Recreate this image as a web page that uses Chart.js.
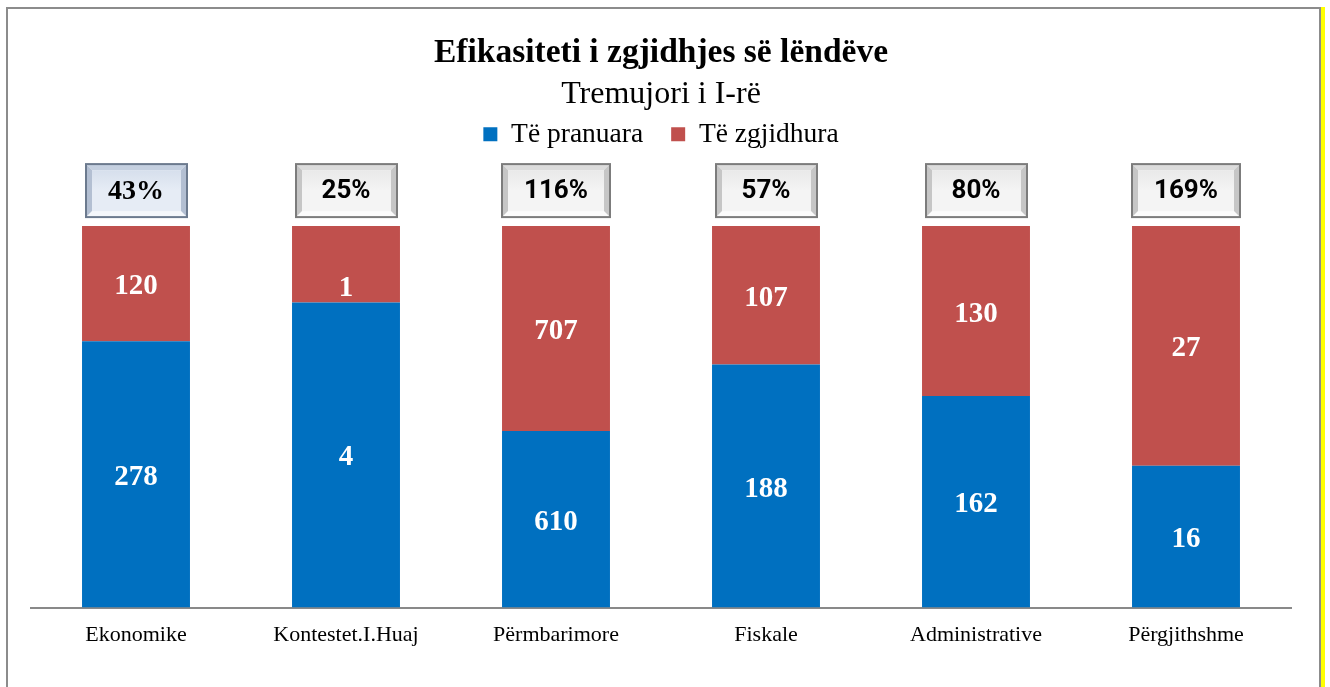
<!DOCTYPE html>
<html>
<head>
<meta charset="utf-8">
<script src="https://cdn.jsdelivr.net/npm/chart.js@4.4.1/dist/chart.umd.min.js"></script>
<style>
  html, body { margin: 0; padding: 0; background: #ffffff; }
  #wrap { position: relative; width: 1330px; height: 687px; overflow: hidden; }
  #c { position: absolute; left: 0; top: 0; }
  #frame { position: absolute; left: 6px; top: 7px; width: 1311px; height: 700px;
           border-left: 2px solid #8c8c8c; border-top: 2px solid #8c8c8c; border-right: 2px solid #8c8c8c;
           pointer-events: none; }
  #stripe { position: absolute; left: 1321px; top: 7px; width: 4px; height: 700px; background: #ffff00; pointer-events: none; }
</style>
</head>
<body>
<div id="wrap">
  <canvas id="c" width="1330" height="687"></canvas>
  <div id="frame"></div>
  <div id="stripe"></div>
</div>
<script>
// ---- data ----
const categories = ['Ekonomike', 'Kontestet.I.Huaj', 'Përmbarimore', 'Fiskale', 'Administrative', 'Përgjithshme'];
const pranuara   = [278, 4, 610, 188, 162, 16];     // Të pranuara
const zgjidhura  = [120, 1, 707, 107, 130, 27];     // Të zgjidhura
const ratioLabels = ['43%', '25%', '116%', '57%', '80%', '169%'];
const seriesNames = ['Të pranuara', 'Të zgjidhura'];

// 100% stacked shares
const totals = categories.map((_, i) => pranuara[i] + zgjidhura[i]);
const sharePranuara  = pranuara.map((v, i) => v / totals[i] * 100);
const shareZgjidhura = zgjidhura.map((v, i) => v / totals[i] * 100);
const rawValues = [pranuara, zgjidhura];

const SERIF = '"Liberation Serif", "DejaVu Serif", serif';

// spacing added under the legend
const legendSpacer = {
  id: 'legendSpacer',
  beforeLayout(chart) {
    const lg = chart.legend;
    if (lg && !lg._patched) {
      const orig = lg.fit;
      lg.fit = function () { orig.call(this); this.height += 68; };
      lg._patched = true;
    }
  }
};

// value labels inside segments
const valueLabels = {
  id: 'valueLabels',
  afterDatasetsDraw(chart, args, opts) {
    const ctx = chart.ctx;
    ctx.save();
    ctx.fillStyle = '#ffffff';
    ctx.font = 'bold 29px ' + SERIF;
    ctx.textAlign = 'center';
    ctx.textBaseline = 'middle';
    chart.data.datasets.forEach((ds, di) => {
      const meta = chart.getDatasetMeta(di);
      meta.data.forEach((el, i) => {
        const yc = (el.y + el.base) / 2 + 3;
        const nudge = (opts.nudge && opts.nudge[di] && opts.nudge[di][i]) || 0;
        ctx.fillText(String(rawValues[di][i]), el.x, yc + nudge);
      });
    });
    ctx.restore();
  }
};

function poly(ctx, pts, fill) {
  ctx.beginPath();
  ctx.moveTo(pts[0][0], pts[0][1]);
  for (let k = 1; k < pts.length; k++) ctx.lineTo(pts[k][0], pts[k][1]);
  ctx.closePath();
  ctx.fillStyle = fill;
  ctx.fill();
}

function bevelBox(ctx, x, y, w, h, blue) {
  const b = 6;
  const c = blue
    ? { face1: '#e6ecf5', face2: '#d6dfec', top: '#c5d0e0', side: '#b3bfd2', bottom: '#f4f7fb', border: '#6c7a8e' }
    : { face1: '#f4f4f4', face2: '#e9e9e9', top: '#dcdcdc', side: '#c6c6c6', bottom: '#fbfbfb', border: '#7c7c7c' };
  poly(ctx, [[x, y], [x + w, y], [x + w - b, y + b], [x + b, y + b]], c.top);
  poly(ctx, [[x, y + h], [x + w, y + h], [x + w - b, y + h - b], [x + b, y + h - b]], c.bottom);
  poly(ctx, [[x, y], [x + b, y + b], [x + b, y + h - b], [x, y + h]], c.side);
  poly(ctx, [[x + w, y], [x + w - b, y + b], [x + w - b, y + h - b], [x + w, y + h]], c.side);
  const g = ctx.createLinearGradient(0, y + b, 0, y + h - b);
  g.addColorStop(0, c.face2);
  g.addColorStop(0.5, c.face1);
  g.addColorStop(1, c.face1);
  ctx.fillStyle = g;
  ctx.fillRect(x + b, y + b, w - 2 * b, h - 2 * b);
  ctx.strokeStyle = c.border;
  ctx.lineWidth = 2;
  ctx.strokeRect(x, y, w, h);
}

// ratio boxes above bars
const ratioBoxes = {
  id: 'ratioBoxes',
  afterDraw(chart, args, opts) {
    const ctx = chart.ctx;
    const meta = chart.getDatasetMeta(0);
    const top = chart.chartArea.top - 62;
    const h = 53;
    ctx.save();
    meta.data.forEach((el, i) => {
      const blue = opts.styles[i] === 'blue';
      const font = blue ? 'bold 28px ' + SERIF : 'bold 26px Roboto, "Liberation Sans", sans-serif';
      ctx.font = font;
      const tw = ctx.measureText(ratioLabels[i]).width;
      const w = Math.round(Math.max(101, tw + 44));
      const x = Math.round(el.x - w / 2);
      bevelBox(ctx, x, top, w, h, blue);
      ctx.fillStyle = '#000000';
      ctx.font = font;
      ctx.textAlign = 'center';
      ctx.textBaseline = 'middle';
      ctx.fillText(ratioLabels[i], el.x, top + h / 2 + 1);
    });
    ctx.restore();
  }
};

new Chart(document.getElementById('c'), {
  type: 'bar',
  data: {
    labels: categories,
    datasets: [
      { label: seriesNames[0], data: sharePranuara, backgroundColor: '#0070C0', borderWidth: 0 },
      { label: seriesNames[1], data: shareZgjidhura, backgroundColor: '#C0504D', borderWidth: 0 }
    ]
  },
  options: {
    responsive: false,
    animation: false,
    events: [],
    layout: { padding: { top: 0, left: 31, right: 39, bottom: 25 } },
    datasets: { bar: { categoryPercentage: 1.0, barPercentage: 0.514 } },
    scales: {
      x: {
        stacked: true,
        grid: { display: false, drawTicks: false },
        border: { display: true, color: '#898989', width: 2 },
        ticks: { color: '#000000', padding: 14, font: { family: SERIF, size: 22 } }
      },
      y: { stacked: true, min: 0, max: 100, display: false }
    },
    plugins: {
      title: {
        display: true,
        text: 'Efikasiteti i zgjidhjes së lëndëve',
        color: '#000000',
        font: { family: SERIF, size: 33.5, weight: 'bold' },
        padding: { top: 33, bottom: 0 }
      },
      subtitle: {
        display: true,
        text: 'Tremujori i I-rë',
        color: '#000000',
        font: { family: SERIF, size: 32, weight: 'normal' },
        padding: { top: 2, bottom: -21 }
      },
      legend: {
        display: true,
        position: 'top',
        labels: {
          color: '#000000',
          boxWidth: 14, boxHeight: 14,
          padding: 28,
          font: { family: SERIF, size: 27.5 }
        }
      },
      tooltip: { enabled: false },
      valueLabels: { nudge: [[], [0, 21, 0, 0, 0, 0]] },
      ratioBoxes: { styles: ['blue', 'gray', 'gray', 'gray', 'gray', 'gray'] }
    }
  },
  plugins: [legendSpacer, valueLabels, ratioBoxes]
});
</script>
</body>
</html>
